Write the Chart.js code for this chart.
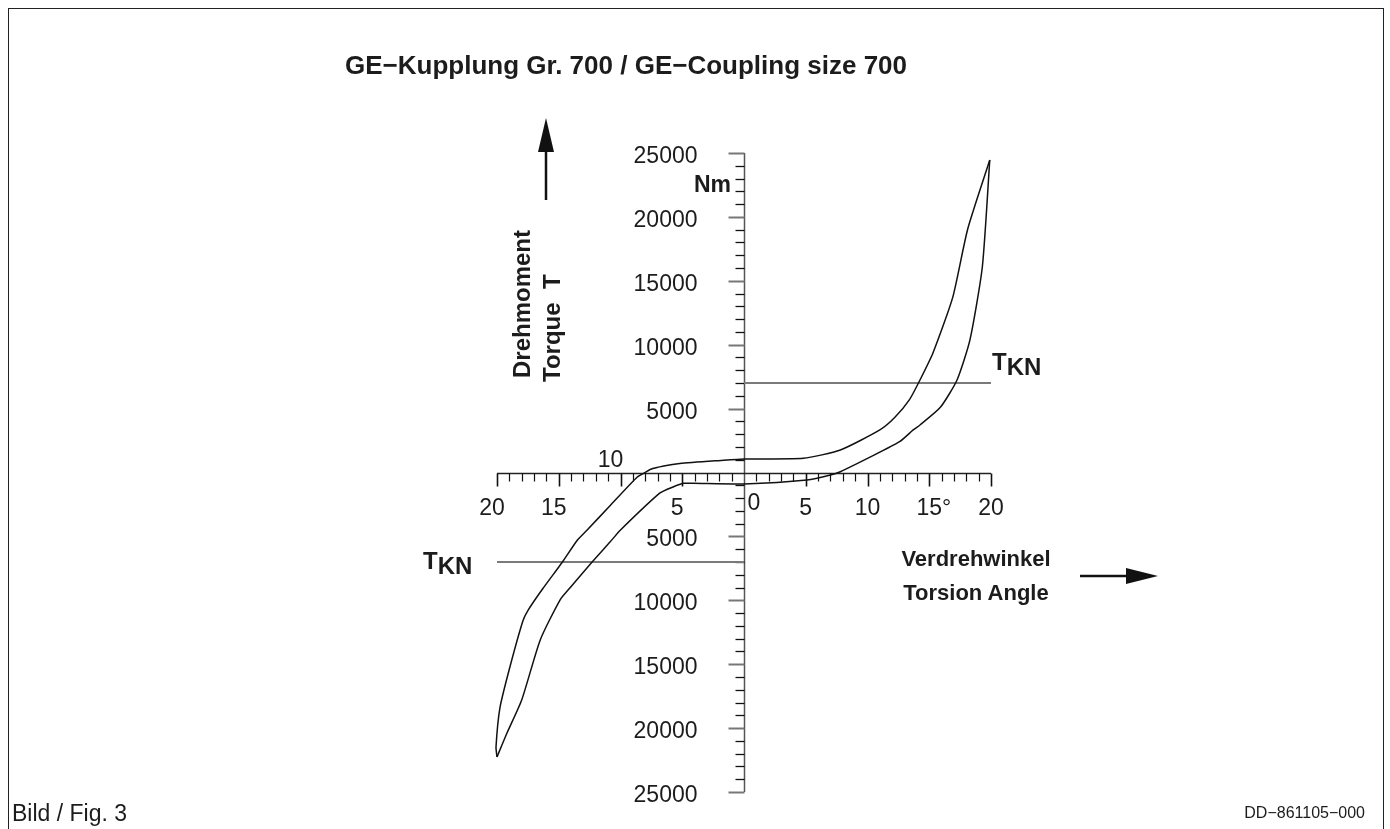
<!DOCTYPE html>
<html lang="de">
<head>
<meta charset="UTF-8">
<title>GE-Kupplung Gr. 700 / GE-Coupling size 700</title>
<script src="https://cdn.jsdelivr.net/npm/chart.js"></script>
<style>
  body { margin: 0; background: #fff; font-family: "Liberation Sans", Arial, Helvetica, sans-serif; color: #1c1c1c; }
  .page { position: relative; width: 1390px; height: 829px; overflow: hidden; background: #fff; }
  .frame { position: absolute; left: 8px; top: 8px; width: 1374px; height: 900px; border: 1px solid #222; }
  canvas { position: absolute; left: 0; top: 0; }
  .lbl { position: absolute; white-space: pre; line-height: 1; }
  .b { font-weight: bold; }
  .rot { transform-origin: 0 0; transform: rotate(-90deg); }
  .sub { position: relative; top: 5px; }
</style>
</head>
<body>
<div class="page">
  <div class="frame"></div>
  <canvas id="chart" width="1390" height="829"></canvas>

  <div class="lbl b" style="left:345px; top:52px; font-size:26px;">GE−Kupplung Gr. 700 / GE−Coupling size 700</div>
  <div class="lbl b" style="right:659px; top:173px; font-size:23px;">Nm</div>
  <div class="lbl b rot" style="left:510px; top:378px; font-size:24px;">Drehmoment</div>
  <div class="lbl b rot" style="left:540px; top:382px; font-size:24px;">Torque  T</div>
  <div class="lbl b" style="left:992px; top:350px; font-size:24px;">T<span class="sub">KN</span></div>
  <div class="lbl b" style="left:423px; top:549px; font-size:24px;">T<span class="sub">KN</span></div>
  <div class="lbl b" style="left:876px; width:200px; text-align:center; top:548px; font-size:22px;">Verdrehwinkel</div>
  <div class="lbl b" style="left:876px; width:200px; text-align:center; top:582px; font-size:22px;">Torsion Angle</div>
  <div class="lbl" style="left:12px; top:802px; font-size:23px;">Bild / Fig. 3</div>
  <div class="lbl" style="right:25px; top:805px; font-size:16px;">DD−861105−000</div>
</div>

<script>
// upper branch of the hysteresis loop (angle in degrees, torque in Nm)
const upperAngle = [-20.0, -20.08, -19.76, -18.95, -17.9, -17.5, -16.3, -14.7, -13.5, -12.7, -10.85, -8.66, -8.0, -7.6, -6.5, -5.2, -1.9, 0, 4.8, 7.8, 11.0, 12.2, 13.4, 14.25, 15.3, 16.9, 18.1, 19.9];
const upperTorque = [-22260, -21480, -18400, -15200, -11600, -10800, -9100, -7000, -5300, -4500, -2600, -370, 0, 230, 500, 700, 940, 1060, 1110, 1760, 3330, 4300, 5700, 7240, 9350, 13700, 19000, 24450];

// lower branch
const lowerAngle = [-20.0, -19.2, -18.0, -16.5, -14.9, -14.1, -12.3, -10.85, -10.0, -6.8, -5.75, -4.9, -4.1, 0, 5.1, 7.0, 7.8, 10.2, 12.6, 13.7, 14.25, 15.9, 17.25, 18.3, 19.3, 19.9];
const lowerTorque = [-22260, -20400, -17800, -13100, -9980, -9040, -7000, -5440, -4500, -1600, -1130, -850, -850, -900, -590, -200, 60, 1200, 2410, 3330, 3720, 5100, 7240, 10400, 16100, 24450];

// rated torque T_KN lines
const tknRightAngle = [0, 20];
const tknRightTorque = [7000, 7000];
const tknLeftAngle = [-20, 0];
const tknLeftTorque = [-7000, -7000];

// axis ticks and labels
const xTickValues = [-20, -15, -10, -5, 0, 5, 10, 15, 20];
const xTickLabels = ['20', '15', '10', '5', '0', '5', '10', '15°', '20'];
const yTickValues = [25000, 20000, 15000, 10000, 5000, -5000, -10000, -15000, -20000, -25000];
const yTickLabels = ['25000', '20000', '15000', '10000', '5000', '5000', '10000', '15000', '20000', '25000'];

function toPoints(xs, ys) {
    return xs.map((v, i) => ({ x: v, y: ys[i] }));
}

const FONT = '"Liberation Sans", Arial, Helvetica, sans-serif';

const centerAxes = {
    id: 'centerAxes',
    beforeDatasetsDraw(chart) {
        const { ctx, scales: { x, y } } = chart;
        const x0 = Math.round(x.getPixelForValue(0)) + 0.5;
        const y0 = Math.round(y.getPixelForValue(0)) + 0.5;
        ctx.save();

        // y axis + ticks (left side)
        ctx.strokeStyle = '#555';
        ctx.lineWidth = 1.5;
        ctx.beginPath();
        ctx.moveTo(x0, y.getPixelForValue(25000));
        ctx.lineTo(x0, y.getPixelForValue(-25000));
        ctx.stroke();
        for (let v = -25000; v <= 25000; v += 1000) {
            if (v === 0) continue;
            const major = v % 5000 === 0;
            const py = Math.round(y.getPixelForValue(v)) + 0.5;
            ctx.strokeStyle = major ? '#777' : '#111';
            ctx.lineWidth = major ? 2 : 1.3;
            ctx.beginPath();
            ctx.moveTo(x0, py);
            ctx.lineTo(x0 - (major ? 16 : 9), py);
            ctx.stroke();
        }

        // x axis + ticks (below)
        ctx.strokeStyle = '#222';
        ctx.lineWidth = 1.5;
        ctx.beginPath();
        ctx.moveTo(x.getPixelForValue(-20), y0);
        ctx.lineTo(x.getPixelForValue(20), y0);
        ctx.stroke();
        for (let v = -20; v <= 20; v += 1) {
            if (v === 0) continue;
            const major = v % 5 === 0;
            const px = Math.round(x.getPixelForValue(v)) + 0.5;
            ctx.strokeStyle = '#111';
            ctx.lineWidth = major ? 1.6 : 1.2;
            ctx.beginPath();
            ctx.moveTo(px, y0);
            ctx.lineTo(px, y0 + (major ? 13 : 8));
            ctx.stroke();
        }

        // tick labels
        ctx.fillStyle = '#1c1c1c';
        ctx.font = '23px ' + FONT;
        ctx.textBaseline = 'alphabetic';
        ctx.textAlign = 'right';
        yTickValues.forEach((v, i) => {
            ctx.fillText(yTickLabels[i], x0 - 47, y.getPixelForValue(v) + 10);
        });
        ctx.textAlign = 'left';
        xTickValues.forEach((v, i) => {
            const label = xTickLabels[i];
            const w = ctx.measureText(label.replace('°', '')).width;
            let px = x.getPixelForValue(v) - w / 2;
            let py = y0 + 41;
            if (v === 0) { px = x0 + 3; py = y0 + 36; }
            if (v === -10) { px -= 10; py = y0 - 7; }
            if (v < 0 && v !== -10) px -= 5;
            ctx.fillText(label, px, py);
        });

        ctx.restore();
    },
    afterDraw(chart) {
        const ctx = chart.ctx;
        ctx.save();
        ctx.fillStyle = '#111';
        ctx.strokeStyle = '#111';
        ctx.lineWidth = 2.5;
        // torque arrow (up)
        ctx.beginPath();
        ctx.moveTo(546, 200);
        ctx.lineTo(546, 140);
        ctx.stroke();
        ctx.beginPath();
        ctx.moveTo(538, 152);
        ctx.lineTo(546, 118);
        ctx.lineTo(554, 152);
        ctx.closePath();
        ctx.fill();
        // angle arrow (right)
        ctx.beginPath();
        ctx.moveTo(1080, 576);
        ctx.lineTo(1135, 576);
        ctx.stroke();
        ctx.beginPath();
        ctx.moveTo(1126, 568);
        ctx.lineTo(1158, 576);
        ctx.lineTo(1126, 584);
        ctx.closePath();
        ctx.fill();
        ctx.restore();
    }
};

const curveStyle = {
    showLine: true,
    borderColor: '#111',
    borderWidth: 1.5,
    pointRadius: 0,
    tension: 0.2,
    fill: false,
    clip: false
};
const tknStyle = {
    showLine: true,
    borderColor: '#7a7a7a',
    borderWidth: 2,
    pointRadius: 0,
    tension: 0,
    fill: false,
    clip: false
};

new Chart(document.getElementById('chart'), {
    type: 'scatter',
    data: {
        datasets: [
            Object.assign({ label: 'upper', data: toPoints(upperAngle, upperTorque) }, curveStyle),
            Object.assign({ label: 'lower', data: toPoints(lowerAngle, lowerTorque) }, curveStyle),
            Object.assign({ label: 'TKN+', data: toPoints(tknRightAngle, tknRightTorque) }, tknStyle),
            Object.assign({ label: 'TKN-', data: toPoints(tknLeftAngle, tknLeftTorque) }, tknStyle)
        ]
    },
    options: {
        responsive: false,
        animation: false,
        layout: { padding: { left: 497, right: 399, top: 153, bottom: 37 } },
        plugins: { legend: { display: false }, tooltip: { enabled: false }, title: { display: false } },
        scales: {
            x: { type: 'linear', min: -20, max: 20, display: false },
            y: { type: 'linear', min: -25000, max: 25000, display: false }
        }
    },
    plugins: [centerAxes]
});
</script>
</body>
</html>
